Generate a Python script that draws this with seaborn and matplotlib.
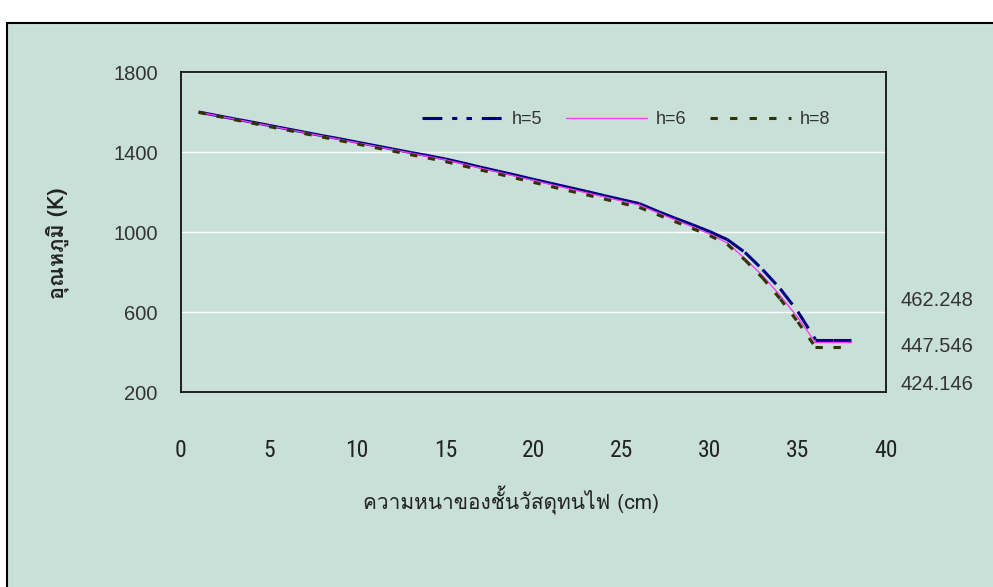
import matplotlib
matplotlib.use("Agg")
import matplotlib.pyplot as plt
from matplotlib import font_manager
from matplotlib.ft2font import FT2Font
from matplotlib.patches import Rectangle
import pandas as pd
import seaborn as sns

# ---- data -------------------------------------------------------------
thickness = list(range(1, 39))  # cm

temp_h5 = [1600, 1583, 1566, 1550, 1533, 1516, 1499, 1482, 1466, 1449,
           1432, 1415, 1398, 1382, 1365, 1345, 1324, 1304, 1284, 1263,
           1243, 1223, 1203, 1182, 1162, 1142, 1105, 1070, 1037, 1002,
           962, 898, 812, 716, 602, 462.248, 462.248, 462.248]
temp_h6 = [1600, 1582, 1565, 1548, 1531, 1514, 1497, 1480, 1463, 1446,
           1429, 1412, 1395, 1378, 1361, 1340, 1319, 1299, 1278, 1258,
           1237, 1217, 1196, 1176, 1155, 1135, 1098, 1062, 1027, 990,
           945, 866, 782, 682, 572, 447.546, 447.546, 447.546]
temp_h8 = [1598, 1580, 1562, 1545, 1527, 1510, 1492, 1475, 1457, 1440,
           1422, 1405, 1387, 1370, 1352, 1331, 1310, 1290, 1269, 1248,
           1227, 1206, 1186, 1165, 1144, 1123, 1088, 1053, 1018, 982,
           938, 860, 770, 665, 550, 424.146, 424.146, 424.146]

series_names = ["h=5", "h=6", "h=8"]
series_values = [temp_h5, temp_h6, temp_h8]

x_ticks = [0, 5, 10, 15, 20, 25, 30, 35, 40]
y_ticks = [200, 600, 1000, 1400, 1800]

x_label = "ความหนาของชั้นวัสดุทนไฟ (cm)"
y_label = "อุณหภูมิ (K)"

# ---- styles -----------------------------------------------------------
palette = {"h=5": "#000080", "h=6": "#F040F0", "h=8": "#333300"}
widths = {"h=5": 2.2, "h=6": 1.0, "h=8": 2.2}
dashes = {"h=5": (6.5, 3.2, 1.7, 3.0, 1.8, 3.2), "h=6": "", "h=8": (2.4, 4.0)}
GREEN = "#C9E0D8"
TEXT = "#333333"

# end-value labels on the right (vertical position in data units)
end_label_y = [660, 430, 240]


def find_thai_family():
    found = []
    for f in font_manager.fontManager.ttflist:
        try:
            if 0x0E01 in FT2Font(f.fname).get_charmap():
                found.append(f.name)
        except Exception:
            continue
    return found[0] if found else "DejaVu Sans"


def find_narrow_font():
    """Return FontProperties for a condensed sans face, if one is installed."""
    entries = font_manager.fontManager.ttflist
    for wanted in ("Liberation Sans Narrow", "Roboto Condensed",
                   "Open Sans Condensed", "Noto Sans Condensed"):
        for f in entries:
            if f.name == wanted and f.weight in (400, "normal", "regular") \
                    and f.style == "normal":
                return font_manager.FontProperties(fname=f.fname)
    for f in entries:
        if f.name == "DejaVu Sans" and "Condensed" in f.fname \
                and "Bold" not in f.fname and "Oblique" not in f.fname:
            return font_manager.FontProperties(fname=f.fname)
    for f in entries:
        if ("Condensed" in f.fname or "Narrow" in f.fname) \
                and "Bold" not in f.fname and "Italic" not in f.fname \
                and "Oblique" not in f.fname:
            return font_manager.FontProperties(fname=f.fname)
    return font_manager.FontProperties(family="Liberation Sans")


thai = find_thai_family()
narrow_fp = find_narrow_font()

sns.set_style("white")
plt.rcParams["font.family"] = ["Liberation Sans", "DejaVu Sans"]

W, H = 993, 587
fig = plt.figure(figsize=(W / 100, H / 100), dpi=100, facecolor="white")
fig.patches.append(Rectangle((6.5 / W, -0.1), 1.2, 1 - 23 / H + 0.1,
                             transform=fig.transFigure, facecolor=GREEN,
                             edgecolor="black", linewidth=1.5, zorder=-10))

ax = fig.add_axes([181 / W, 1 - 392 / H, 705 / W, 320 / H])
ax.set_facecolor("none")

# long-form table: every consecutive pair of points is its own unit, so each
# segment starts its dash pattern afresh
rows = []
for name, vals in zip(series_names, series_values):
    for i in range(len(thickness) - 1):
        seg = f"{name}:{i}"
        rows.append((thickness[i], vals[i], name, seg))
        rows.append((thickness[i + 1], vals[i + 1], name, seg))
df = pd.DataFrame(rows, columns=["thickness", "temp", "series", "seg"])

sns.lineplot(data=df, x="thickness", y="temp", hue="series", style="series",
             size="series", units="seg", estimator=None, sort=False,
             palette=palette, dashes=dashes, sizes=widths,
             hue_order=series_names, style_order=series_names,
             size_order=series_names, ax=ax)

ax.set_xlim(0, 40)
ax.set_ylim(200, 1800)
ax.set_xticks(x_ticks)
ax.set_yticks(y_ticks)
xfp = narrow_fp.copy()
xfp.set_size(17)
ax.set_xticklabels([str(v) for v in x_ticks], fontproperties=xfp,
                   color="#222222")
ax.set_yticklabels([str(v) for v in y_ticks], fontsize=14.5, color=TEXT)
ax.tick_params(axis="both", direction="in", length=6.5, width=1,
               color="#404040")
ax.tick_params(axis="y", pad=16.8)
ax.tick_params(axis="x", pad=34)

ax.yaxis.grid(True, color="white", linewidth=1)
ax.xaxis.grid(False)
for s in ax.spines.values():
    s.set_visible(True)
    s.set_color("black")
    s.set_linewidth(1.2)

ax.set_xlabel(x_label, fontfamily=[thai, "Liberation Sans"], fontsize=15,
              color="#222222")
ax.xaxis.set_label_coords((511 - 181) / 705, (392 - 486) / 320)
ax.set_ylabel(y_label, fontfamily=[thai, "Liberation Sans"], fontsize=15.5,
              fontweight="bold", color="#222222")
ax.yaxis.set_label_coords((69 - 181) / 705, (392 - 243) / 320)

handles, labels = ax.get_legend_handles_labels()
ax.legend(handles, labels, loc="center left",
          bbox_to_anchor=(421.7 / W, 1 - 120 / H), bbox_transform=fig.transFigure,
          ncol=3, frameon=False, fontsize=13, handlelength=4.5,
          handletextpad=0.5, columnspacing=1.28, borderpad=0,
          borderaxespad=0, labelcolor=TEXT)

for vals, ypos in zip(series_values, end_label_y):
    ax.text(40.8, ypos, f"{vals[-1]:.3f}", fontsize=14.5, color=TEXT,
            ha="left", va="center", clip_on=False)

fig.savefig("out.png", dpi=100, facecolor="white")
